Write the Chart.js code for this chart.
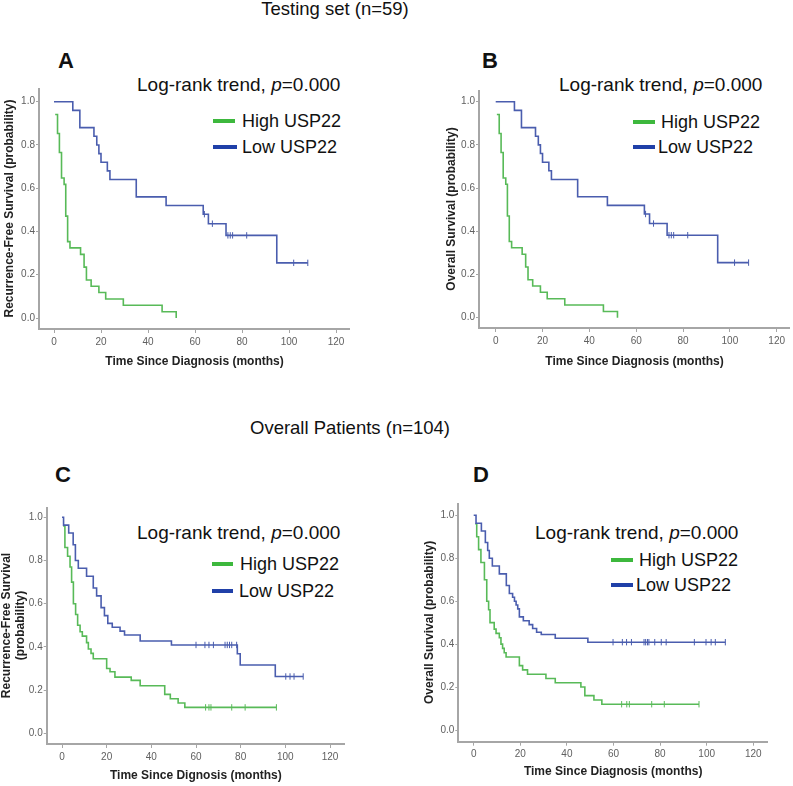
<!DOCTYPE html>
<html><head><meta charset="utf-8">
<script src="https://cdn.jsdelivr.net/npm/chart.js@4.4.1/dist/chart.umd.min.js"></script>
<style>
html,body{margin:0;padding:0;background:#fff;}
body{width:793px;height:786px;position:relative;overflow:hidden;font-family:Arial,"Liberation Sans",Helvetica,sans-serif;color:#111;}
canvas{position:absolute;}
.t{position:absolute;white-space:nowrap;line-height:1;}
.hd{font-size:18.5px;transform:translate(-50%,-50%);}
.lt{font-size:22px;font-weight:bold;transform:translateY(-50%);}
.lr{font-size:19px;transform:translateY(-50%);}
.lg{font-size:18px;transform:translateY(-50%);}
.ln{position:absolute;height:4px;transform:translateY(-50%);}
.g{background:#3DB83D;}
.b{background:#2040A8;}
</style></head><body>

<div class="t hd" style="left:335px;top:9px">Testing set (n=59)</div>
<div class="t hd" style="left:350px;top:428px">Overall Patients (n=104)</div>

<div class="t lt" style="left:58px;top:61px">A</div>
<div class="t lt" style="left:482px;top:61px">B</div>
<div class="t lt" style="left:55px;top:475px">C</div>
<div class="t lt" style="left:473px;top:475px">D</div>

<div class="t lr" style="left:137px;top:84px">Log-rank trend, <i>p</i>=0.000</div>
<div class="t lr" style="left:559px;top:84px">Log-rank trend, <i>p</i>=0.000</div>
<div class="t lr" style="left:137px;top:532px">Log-rank trend, <i>p</i>=0.000</div>
<div class="t lr" style="left:535px;top:532px">Log-rank trend, <i>p</i>=0.000</div>

<div class="ln g" style="left:213px;top:121px;width:22px"></div>
<div class="t lg" style="left:242px;top:121px" id="lgA1"></div>
<div class="ln b" style="left:213px;top:147px;width:24px"></div>
<div class="t lg" style="left:242px;top:147px" id="lgA2"></div>

<div class="ln g" style="left:633px;top:122px;width:22px"></div>
<div class="t lg" style="left:661px;top:122px" id="lgB1"></div>
<div class="ln b" style="left:633px;top:147px;width:22px"></div>
<div class="t lg" style="left:658px;top:147px" id="lgB2"></div>

<div class="ln g" style="left:212px;top:564px;width:21px"></div>
<div class="t lg" style="left:240px;top:564px" id="lgC1"></div>
<div class="ln b" style="left:212px;top:591px;width:21px"></div>
<div class="t lg" style="left:239px;top:591px" id="lgC2"></div>

<div class="ln g" style="left:611px;top:560px;width:22px"></div>
<div class="t lg" style="left:639px;top:560px" id="lgD1"></div>
<div class="ln b" style="left:611px;top:585px;width:22px"></div>
<div class="t lg" style="left:636px;top:585px" id="lgD2"></div>

<script>
// ---------------- DATA ----------------
const seriesNames = ['High USP22', 'Low USP22'];
const yTickValues = [0, 0.2, 0.4, 0.6, 0.8, 1.0];
const yTickLabels = ['0.0', '0.2', '0.4', '0.6', '0.8', '1.0'];
const xTickValues = [0, 20, 40, 60, 80, 100, 120];
const xTickLabels = ['0', '20', '40', '60', '80', '100', '120'];

// Testing set (n=59) – panels A and B
const testHighTimes = [0.5, 1.5, 2.3, 3.2, 4.3, 5.0, 5.8, 6.8, 11.3, 12.8, 13.8, 15.8, 19.1, 22.0, 29.5, 46.0, 52.0];
const testHighSurv  = [0.941, 0.853, 0.765, 0.647, 0.618, 0.471, 0.353, 0.324, 0.294, 0.235, 0.176, 0.147, 0.118, 0.088, 0.059, 0.029, 0.0];
const testHighCensor = [];
const testLowTimes = [0, 8.0, 11.0, 17.0, 18.2, 19.1, 20.0, 22.7, 23.8, 35.0, 47.7, 63.5, 65.7, 73.2, 94.8, 108];
const testLowSurv  = [1.0, 0.96, 0.88, 0.84, 0.80, 0.76, 0.72, 0.68, 0.64, 0.56, 0.52, 0.48, 0.436, 0.382, 0.255, 0.255];
const testLowCensor = [64.0, 67.4, 74.0, 75.0, 76.0, 82.0, 102.0, 108.0];

// Overall patients (n=104), recurrence-free survival – panel C
const rfsHighTimes = [0.5, 1.3, 2.5, 3.6, 4.3, 5.1, 6.1, 7.0, 8.1, 9.1, 11.0, 11.8, 13.0, 14.0, 20.0, 21.5, 23.7, 31.0, 35.0, 46.0, 48.5, 52.0, 55.0, 96.0];
const rfsHighSurv  = [0.96, 0.86, 0.82, 0.77, 0.70, 0.60, 0.55, 0.50, 0.47, 0.45, 0.42, 0.39, 0.37, 0.345, 0.30, 0.285, 0.26, 0.245, 0.22, 0.18, 0.16, 0.14, 0.12, 0.12];
const rfsHighCensor = [64.3, 65.8, 66.7, 76.0, 82.0, 96.0];
const rfsLowTimes = [0, 0.7, 3.0, 5.0, 6.0, 7.3, 11.0, 14.0, 15.5, 17.5, 19.0, 20.5, 22.5, 26.0, 28.0, 35.0, 49.0, 78.5, 79.8, 95.5, 108];
const rfsLowSurv  = [1.0, 0.964, 0.927, 0.873, 0.80, 0.764, 0.727, 0.673, 0.636, 0.582, 0.545, 0.509, 0.491, 0.473, 0.455, 0.427, 0.409, 0.368, 0.316, 0.263, 0.263];
const rfsLowCensor = [60.0, 64.0, 65.8, 67.8, 73.0, 74.0, 75.0, 76.0, 78.2, 100.2, 102.1, 103.9, 108.0];

// Overall patients (n=104), overall survival – panel D
const osHighTimes = [0.7, 1.3, 2.1, 3.1, 4.6, 5.6, 6.4, 7.0, 8.8, 9.6, 11.0, 11.7, 12.4, 13.1, 13.9, 19.6, 21.0, 23.1, 31.0, 35.0, 46.0, 47.7, 51.6, 55.0, 96.7];
const osHighSurv  = [0.96, 0.90, 0.84, 0.78, 0.70, 0.60, 0.56, 0.50, 0.47, 0.45, 0.43, 0.40, 0.38, 0.36, 0.34, 0.30, 0.28, 0.26, 0.24, 0.22, 0.20, 0.16, 0.14, 0.12, 0.12];
const osHighCensor = [63.5, 65.7, 66.8, 76.4, 81.8, 96.7];
const osLowTimes = [0, 1.0, 3.3, 5.0, 6.0, 6.7, 8.0, 11.0, 14.0, 15.3, 16.7, 17.5, 18.2, 18.9, 19.6, 21.3, 23.8, 25.3, 27.0, 29.0, 35.0, 49.0, 108];
const osLowSurv  = [1.0, 0.963, 0.927, 0.873, 0.836, 0.80, 0.764, 0.727, 0.673, 0.636, 0.618, 0.60, 0.582, 0.564, 0.527, 0.509, 0.491, 0.473, 0.455, 0.445, 0.427, 0.409, 0.409];
const osLowCensor = [59.8, 63.8, 65.6, 67.7, 73.1, 73.8, 74.6, 75.2, 77.7, 80.5, 82.6, 94.7, 99.7, 101.9, 103.7, 108.0];

// ---------------- STYLE / LAYOUT ----------------
const FONT = 'Arial, "Liberation Sans", Helvetica, sans-serif';
Chart.defaults.font.family = FONT;
const GREEN = '#58BA58';
const BLUE = '#4A5DAE';
const AXIS = '#A6A6A6';

['A','B','C','D'].forEach(p => {
  document.getElementById('lg' + p + '1').textContent = seriesNames[0];
  document.getElementById('lg' + p + '2').textContent = seriesNames[1];
});

function survAt(times, surv, t) {
  let s = 1;
  for (let i = 0; i < times.length; i++) if (times[i] <= t) s = surv[i];
  return s;
}

function makePanel(g, high, low, yTitle, xTitle) {
  const cv = document.createElement('canvas');
  const W = g.right - g.left, H = g.bottom - g.top;
  cv.width = W; cv.height = H;
  cv.style.left = g.left + 'px'; cv.style.top = g.top + 'px';
  cv.style.width = W + 'px'; cv.style.height = H + 'px';
  document.body.appendChild(cv);

  const ppx = (g.x120 - g.x0) / 120;
  const xmin = -(g.x0 - g.axL) / ppx;
  const xmax = 120 + (g.right - g.x120) / ppx;
  const ppy = g.v0 - g.v1;
  const ymax = 1 + (g.v1 - g.top) / ppy;
  const ymin = -(g.axB - g.v0) / ppy;
  const yW = g.axL - g.left;
  const xH = g.bottom - g.axB;

  const curve = (s, color) => ({
    data: s.times.map((t, i) => ({x: t, y: s.surv[i]})),
    borderColor: color, borderWidth: 1.6, pointRadius: 0, stepped: 'before', fill: false
  });
  const cens = (s, color) => ({
    data: s.censor.map(t => ({x: t, y: survAt(s.times, s.surv, t)})),
    showLine: false, pointStyle: 'line', rotation: 90, pointRadius: 3.2,
    pointBorderColor: color, pointBorderWidth: 1, borderColor: color, pointHoverRadius: 0
  });

  new Chart(cv, {
    type: 'line',
    data: { datasets: [curve(low, BLUE), cens(low, BLUE), curve(high, GREEN), cens(high, GREEN)] },
    options: {
      responsive: false, animation: false, events: [],
      layout: { padding: 0, autoPadding: false },
      plugins: { legend: { display: false }, tooltip: { enabled: false } },
      scales: {
        x: {
          type: 'linear', min: xmin, max: xmax,
          afterBuildTicks: s => { s.ticks = xTickValues.map(v => ({value: v})); },
          afterFit: s => { s.height = xH; s.paddingLeft = 0; s.paddingRight = 0; },
          grid: { display: true, drawOnChartArea: false, drawTicks: true, tickLength: 4, color: AXIS, lineWidth: 1 },
          border: { display: true, color: AXIS, width: 2 },
          ticks: { color: '#606060', font: { size: 10 }, padding: 3, maxRotation: 0, autoSkip: false,
                   callback: (v, i) => xTickLabels[i] },
          title: { display: true, text: xTitle, color: '#222', font: { size: 12, weight: 'bold', lineHeight: 1.2 },
                   padding: { top: 0, bottom: 0 } }
        },
        y: {
          type: 'linear', min: ymin, max: ymax,
          afterBuildTicks: s => { s.ticks = yTickValues.map(v => ({value: v})); },
          afterFit: s => { s.width = yW; s.paddingTop = 0; s.paddingBottom = 0; },
          grid: { display: true, drawOnChartArea: false, drawTicks: true, tickLength: 3, color: AXIS, lineWidth: 1 },
          border: { display: true, color: AXIS, width: 2 },
          ticks: { color: '#606060', font: { size: 10 }, padding: 1, autoSkip: false,
                   callback: (v, i) => yTickLabels[i] },
          title: { display: true, text: yTitle, color: '#222', font: { size: 12, weight: 'bold', lineHeight: g.yLH },
                   padding: { top: g.yPad, bottom: 0 } }
        }
      }
    }
  });
}

const testHigh = {times: testHighTimes, surv: testHighSurv, censor: testHighCensor};
const testLow  = {times: testLowTimes,  surv: testLowSurv,  censor: testLowCensor};
const rfsHigh  = {times: rfsHighTimes,  surv: rfsHighSurv,  censor: rfsHighCensor};
const rfsLow   = {times: rfsLowTimes,   surv: rfsLowSurv,   censor: rfsLowCensor};
const osHigh   = {times: osHighTimes,   surv: osHighSurv,   censor: osHighCensor};
const osLow    = {times: osLowTimes,    surv: osLowSurv,    censor: osLowCensor};

makePanel({left: 0, top: 88, bottom: 369, right: 350, axL: 39, axB: 329, x0: 54, x120: 336, v1: 101.7, v0: 318, yPad: 2.8, yLH: 1.2},
  testHigh, testLow, 'Recurrence-Free Survival (probability)', 'Time Since Diagnosis (months)');
makePanel({left: 440, top: 90, bottom: 369, right: 790, axL: 479, axB: 328, x0: 495.7, x120: 776.7, v1: 101.7, v0: 317.7, yPad: 4.5, yLH: 1.2},
  testHigh, testLow, 'Overall Survival (probability)', 'Time Since Diagnosis (months)');
makePanel({left: 0, top: 507, bottom: 783, right: 345, axL: 46.7, axB: 744, x0: 62, x120: 330, v1: 517.3, v0: 733.3, yPad: 0, yLH: 1.15},
  rfsHigh, rfsLow, ['Recurrence-Free Survival', '(probability)'], 'Time Since Dignosis (months)');
makePanel({left: 410, top: 503, bottom: 779, right: 768, axL: 458.3, axB: 741.7, x0: 473.7, x120: 753.3, v1: 515.3, v0: 730, yPad: 12.1, yLH: 1.2},
  osHigh, osLow, 'Overall Survival (probability)', 'Time Since Diagnosis (months)');
</script>
</body></html>
